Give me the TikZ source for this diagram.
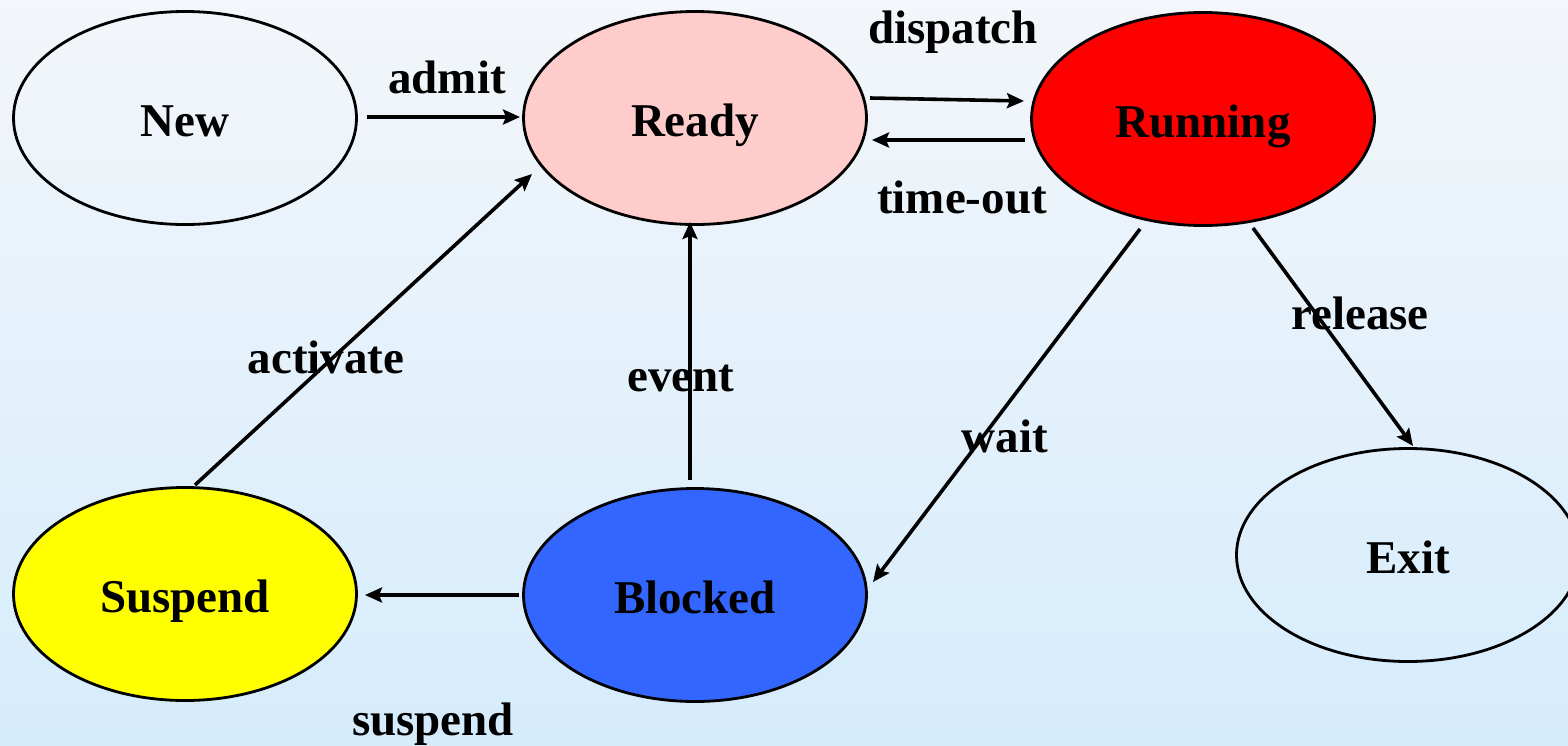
\documentclass[tikz,border=0pt]{standalone}
\usepackage{fontspec}
\setmainfont{Liberation Serif}
\usetikzlibrary{shapes.geometric,arrows.meta,calc}
\definecolor{bgtop}{RGB}{243,246,250}
\definecolor{bgbot}{RGB}{213,236,252}
\definecolor{readyc}{RGB}{255,204,204}
\definecolor{runc}{RGB}{255,0,0}
\definecolor{suspc}{RGB}{255,255,0}
\definecolor{blockc}{RGB}{51,102,255}
\begin{document}
\begin{tikzpicture}[x=1pt,y=-1pt,
  st/.style={ellipse,draw=black,line width=2.8pt,minimum width=343pt,minimum height=213pt,inner sep=0pt,
     font=\fontsize{47}{56}\selectfont\bfseries,text height=37pt,text depth=0pt},
  lbl/.style={font=\fontsize{47}{56}\selectfont\bfseries,anchor=base,inner sep=0pt},
  arr/.style={line width=3.6pt,-{Stealth[length=17pt,width=15pt,inset=3pt]}}]
\useasboundingbox (0,0) rectangle (1568,745);
\clip (0,0) rectangle (1568,745);
\shade[top color=bgtop,bottom color=bgbot] (0,0) rectangle (1568,745);
\node[st] (new) at (185,118) {New};
\node[st,fill=readyc] (ready) at (695,118) {Ready};
\node[st,fill=runc] (running) at (1203,119) {Running};
\node[st,fill=suspc] (suspend) at (185,594) {Suspend};
\node[st,fill=blockc] (blocked) at (695,595) {Blocked};
\node[st] (exit) at (1408,555) {Exit};
\draw[arr] ($(new.center)+(182,-1)$) -- ($(ready.center)+(-175,-1)$);
\draw[arr] ($(ready.center)+(175,-20)$) -- ($(running.center)+(-179,-18)$);
\draw[arr] ($(running.center)+(-178,21)$) -- ($(ready.center)+(177,22)$);
\draw[arr] ($(running.center)+(-63,110)$) -- ($(blocked.center)+(178,-13)$);
\draw[arr] ($(running.center)+(50,109)$) -- ($(exit.center)+(5,-109)$);
\draw[arr] ($(blocked.center)+(-5,-115)$) -- ($(ready.center)+(-5,104)$);
\draw[arr] ($(blocked.center)+(-176,0)$) -- ($(suspend.center)+(180,1)$);
\draw[arr] ($(suspend.center)+(10,-109)$) -- ($(ready.center)+(-163,56)$);
\node[lbl] (ladmit) at (447,93) {admit};
\node[lbl] (ldispatch) at (953,43) {dispatch};
\node[lbl] (ltimeout) at (962,213) {time-out};
\node[lbl] (lrelease) at (1360,329) {release};
\node[lbl] (lactivate) at (326,373) {activate};
\node[lbl] (levent) at (681,391) {event};
\node[lbl] (lwait) at (1005,452) {wait};
\node[lbl] (lsuspend) at (433,735) {suspend};
\end{tikzpicture}
\end{document}
